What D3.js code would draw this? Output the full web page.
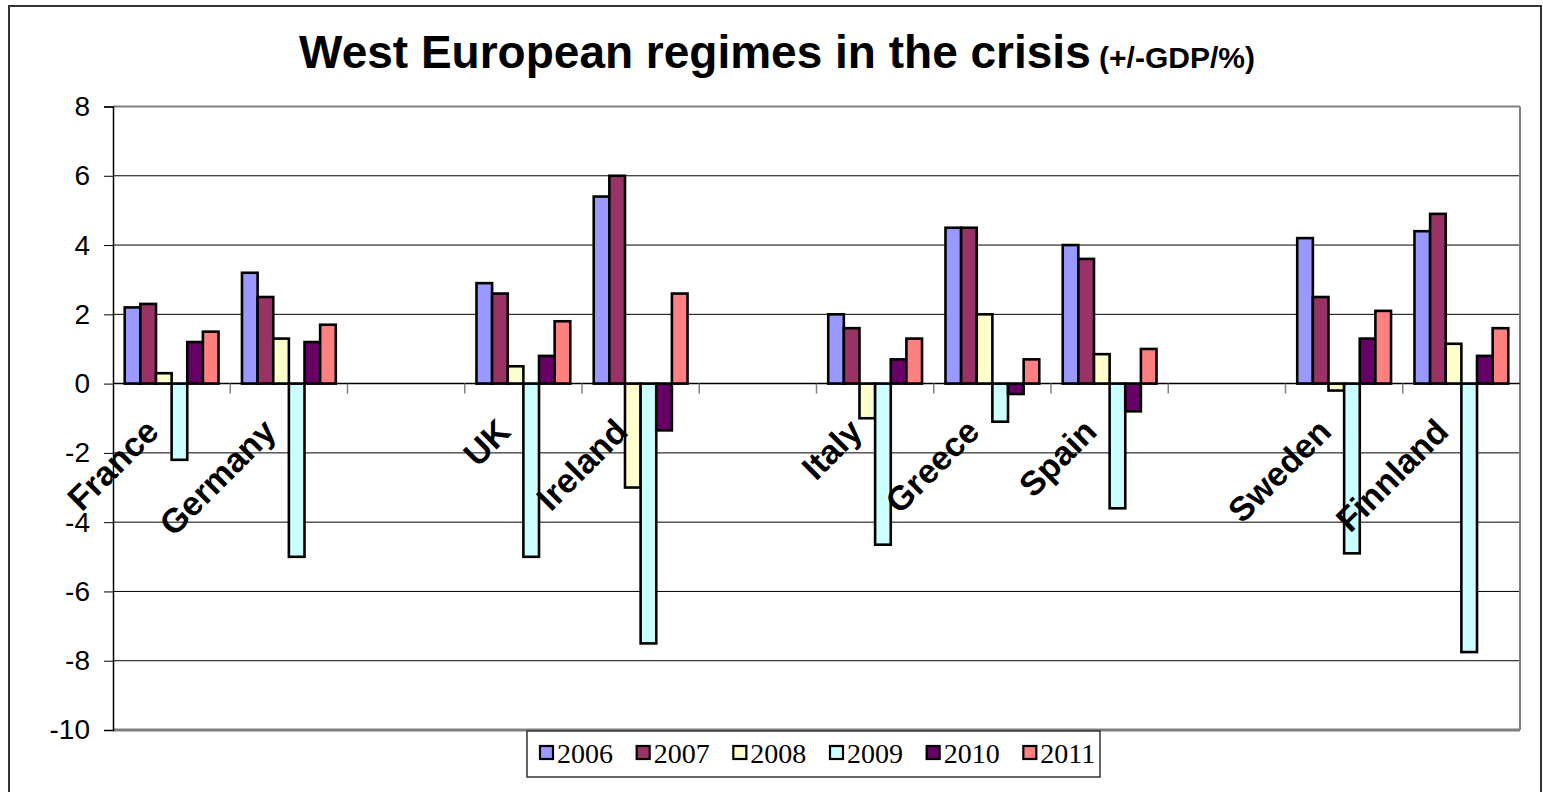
<!DOCTYPE html>
<html><head><meta charset="utf-8">
<script src="https://cdn.jsdelivr.net/npm/d3@7"></script>
<style>body{margin:0;background:#fff}svg{display:block}</style>
</head><body><svg id="c" width="1543" height="792"></svg>
<script>
const categories = ["France","Germany","","UK","Ireland","","Italy","Greece","Spain","","Sweden","Finnland"];
const years = ["2006","2007","2008","2009","2010","2011"];
const v2006 = [2.2, 3.2, null, 2.9, 5.4, null, 2.0, 4.5, 4.0, null, 4.2, 4.4];
const v2007 = [2.3, 2.5, null, 2.6, 6.0, null, 1.6, 4.5, 3.6, null, 2.5, 4.9];
const v2008 = [0.3, 1.3, null, 0.5, -3.0, null, -1.0, 2.0, 0.85, null, -0.2, 1.15];
const v2009 = [-2.2, -5.0, null, -5.0, -7.5, null, -4.65, -1.1, -3.6, null, -4.9, -7.75];
const v2010 = [1.2, 1.2, null, 0.8, -1.35, null, 0.7, -0.3, -0.8, null, 1.3, 0.8];
const v2011 = [1.5, 1.7, null, 1.8, 2.6, null, 1.3, 0.7, 1.0, null, 2.1, 1.6];
const yTicks = [8, 6, 4, 2, 0, -2, -4, -6, -8, -10];
const colors = ["#9999FF", "#993366", "#FFFFCC", "#CCFFFF", "#660066", "#FF8080"];
const series = [v2006, v2007, v2008, v2009, v2010, v2011];

const svg = d3.select("#c");
const L = 113, R = 1520, T = 106.5, B = 730;

// outer border
svg.append("rect").attr("x", 9).attr("y", 6).attr("width", 1532).attr("height", 800)
  .attr("fill", "none").attr("stroke", "#333").attr("stroke-width", 2);

const x0 = d3.scaleBand().domain(d3.range(categories.length)).range([L, R]).paddingInner(0.2).paddingOuter(0.1);
const x1 = d3.scaleBand().domain(d3.range(years.length)).range([0, x0.bandwidth()]);
const y = d3.scaleLinear().domain([-10, 8]).range([B, T]);

// gridlines
svg.append("g").selectAll("line").data(yTicks.filter(d => d !== 8 && d !== -10 && d !== 0)).join("line")
  .attr("x1", L).attr("x2", R).attr("y1", d => y(d)).attr("y2", d => y(d))
  .attr("stroke", "#000").attr("stroke-width", 1);

// plot border top/right/bottom
svg.append("line").attr("x1", L).attr("x2", R).attr("y1", T).attr("y2", T).attr("stroke", "#808080").attr("stroke-width", 2);
svg.append("line").attr("x1", R).attr("x2", R).attr("y1", T).attr("y2", B).attr("stroke", "#808080").attr("stroke-width", 2);
svg.append("line").attr("x1", L).attr("x2", R).attr("y1", B).attr("y2", B).attr("stroke", "#808080").attr("stroke-width", 3);

// bars
const gBars = svg.append("g");
series.forEach((vals, si) => {
  gBars.append("g").selectAll("rect").data(vals.map((v, i) => ({v, i})).filter(d => d.v !== null)).join("rect")
    .attr("x", d => x0(d.i) + x1(si))
    .attr("width", x1.bandwidth())
    .attr("y", d => Math.min(y(d.v), y(0)))
    .attr("height", d => Math.abs(y(d.v) - y(0)))
    .attr("fill", colors[si]).attr("stroke", "#000").attr("stroke-width", 2.6);
});

// y axis
const yAxis = d3.axisLeft(y).tickValues(yTicks).tickSize(9).tickPadding(14).tickFormat(d => String(d));
const gy = svg.append("g").attr("transform", `translate(${L},0)`).call(yAxis);
gy.select(".domain").attr("stroke", "#000").attr("stroke-width", 1.5);
gy.selectAll(".tick line").attr("stroke", "#000");
gy.selectAll("text").attr("font-family", "Liberation Sans, Arial, sans-serif").attr("font-size", 28).attr("fill", "#000");

// zero axis with ticks at slot boundaries
svg.append("line").attr("x1", L).attr("x2", R).attr("y1", y(0)).attr("y2", y(0)).attr("stroke", "#000").attr("stroke-width", 1.5);
svg.append("g").selectAll("line").data(d3.range(1, categories.length + 1)).join("line")
  .attr("x1", i => x0(i - 1) + x0.bandwidth() + x0.step() * x0.paddingInner() / 2)
  .attr("x2", i => x0(i - 1) + x0.bandwidth() + x0.step() * x0.paddingInner() / 2)
  .attr("y1", y(0)).attr("y2", y(0) + 10).attr("stroke", "#808080").attr("stroke-width", 1.5);

// category labels
svg.append("g").selectAll("text").data(categories.map((c, i) => ({c, i})).filter(d => d.c)).join("text")
  .attr("transform", d => `translate(${x0(d.i) + x0.bandwidth() / 2 - 11},${y(0) + 50}) rotate(-45)`)
  .attr("text-anchor", "end")
  .attr("font-family", "Liberation Sans, Arial, sans-serif").attr("font-weight", "bold").attr("font-size", 34)
  .text(d => d.c);

// title
const title = svg.append("text").attr("x", 777).attr("y", 68).attr("text-anchor", "middle")
  .attr("font-family", "Liberation Sans, Arial, sans-serif").attr("font-weight", "bold");
title.append("tspan").attr("font-size", 46).text("West European regimes in the crisis");
title.append("tspan").attr("font-size", 30).text(" (+/-GDP/%)");

// legend
const lg = svg.append("g");
lg.append("rect").attr("x", 527).attr("y", 731).attr("width", 573).attr("height", 46)
  .attr("fill", "#fff").attr("stroke", "#333").attr("stroke-width", 1.5);
const lx = d3.scaleBand().domain(years).range([536, 1116]);
years.forEach((yr, i) => {
  lg.append("rect").attr("x", lx(yr) + 4).attr("y", 746).attr("width", 13).attr("height", 13)
    .attr("fill", colors[i]).attr("stroke", "#000").attr("stroke-width", 2.2);
  lg.append("text").attr("x", lx(yr) + 21).attr("y", 763)
    .attr("font-family", "Liberation Serif, Times New Roman, serif").attr("font-size", 28).text(yr);
});
</script></body></html>
